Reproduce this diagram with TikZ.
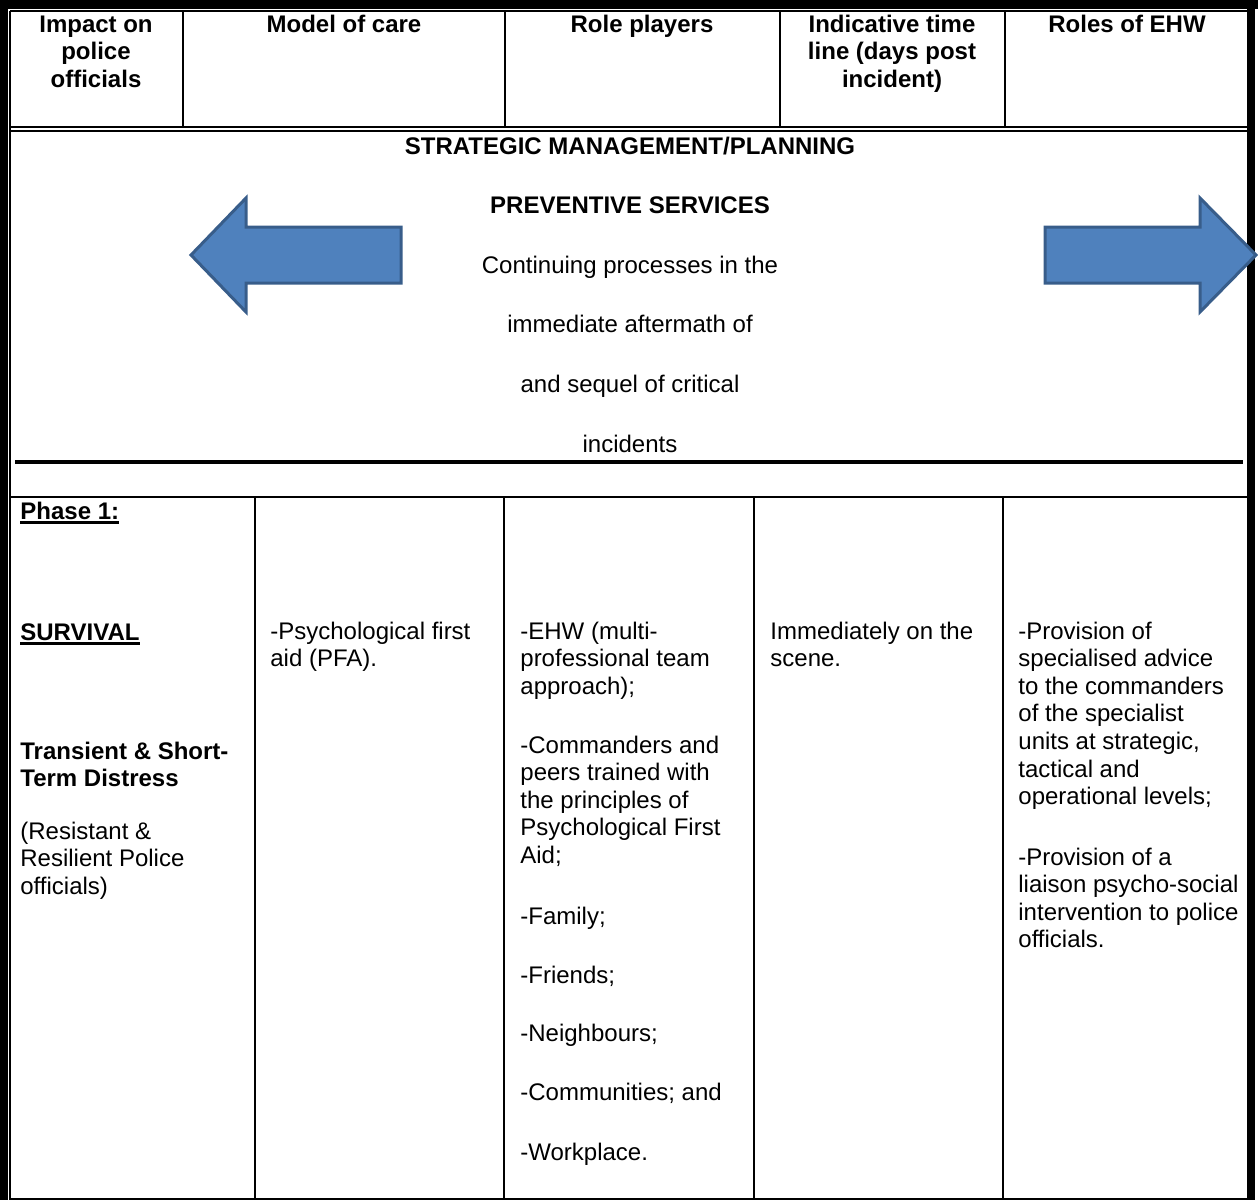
\documentclass[tikz,border=0pt]{standalone}
\usepackage{fontspec}
\setmainfont{Liberation Sans}
\usetikzlibrary{positioning}
\definecolor{arrowfill}{HTML}{4F81BD}
\definecolor{arrowline}{HTML}{385D8A}
\newcommand{\cellfont}{\fontsize{12}{13.8}\selectfont}
\newsavebox{\ulbox}
\newcommand{\thickul}[1]{\sbox{\ulbox}{#1}\rlap{\rule[-2.3pt]{\wd\ulbox}{1.1pt}}\usebox{\ulbox}}
\tikzset{
  head/.style={anchor=base, align=center, inner sep=0pt, font=\cellfont\bfseries},
  cell/.style={anchor=base west, align=left, inner sep=0pt, font=\cellfont},
  boldcell/.style={cell, font=\cellfont\bfseries},
  rule/.style={line width=1pt},
  blockarrow/.style={fill=arrowfill, draw=arrowline, line width=1.5pt, line join=miter}
}
\begin{document}
\begin{tikzpicture}[x=0.5pt, y=-0.5pt]
\useasboundingbox (0,0) rectangle (1258,1200);
% outer frame
\fill (0,0) rectangle (1258,9);
\fill (0,0) rectangle (8,1200);
\fill (1247,0) rectangle (1255,1200);
\draw[rule] (10,11) -- (1247,11);
\draw[rule] (10,11) -- (10,1199) -- (1247,1199);
% rows
\draw[rule] (10,127) -- (1247,127);
\draw[rule] (10,131) -- (1247,131);
\draw[line width=2pt] (15,462) -- (1243,462);
\draw[rule] (10,497) -- (1247,497);
% header columns
\draw[rule] (183,11) -- (183,127);
\draw[rule] (505,11) -- (505,127);
\draw[rule] (780,11) -- (780,127);
\draw[rule] (1005,11) -- (1005,127);
% phase columns
\draw[rule] (255,497) -- (255,1199);
\draw[rule] (504,497) -- (504,1199);
\draw[rule] (754,497) -- (754,1199);
\draw[rule] (1003,497) -- (1003,1199);

% header (base = last line)
\node[head] (impact) at (96,87.2) {Impact on\\police\\officials};
\node[head] (model) at (344,32) {Model of care};
\node[head] (players) at (642,32) {Role players};
\node[head] (timeline) at (892,87.2) {Indicative time\\line (days post\\incident)};
\node[head] (roles) at (1127,32) {Roles of EHW};

% strategic band
\node[anchor=base, align=center, inner sep=0pt, font=\fontsize{12}{29.8}\selectfont] (prevent) at (630,452)
  {\textbf{STRATEGIC MANAGEMENT/PLANNING}\\\textbf{PREVENTIVE SERVICES}\\Continuing processes in the\\immediate aftermath of\\and sequel of critical\\incidents};
\draw[blockarrow] (191,255) -- (246,198) -- (246,227) -- (401,227) -- (401,283) -- (246,283) -- (246,312) -- cycle;
\draw[blockarrow] (1045,227) -- (1200,227) -- (1200,198) -- (1256,255) -- (1200,312) -- (1200,283) -- (1045,283) -- cycle;

% phase 1
\node[boldcell] (phase) at (20,519) {\thickul{Phase 1:}};
\node[boldcell] (survival) at (20,640) {\thickul{SURVIVAL}};
\node[boldcell] (distress) at (20,786.6) {Transient \& Short-\\Term Distress};
\node[cell] (resilient) at (20,894.2) {(Resistant \&\\Resilient Police\\officials)};
\node[cell] (pfa) at (270,666.6) {-Psychological first\\aid (PFA).};
\node[cell] (ehw) at (520,694.2) {-EHW (multi-\\professional team\\approach);};
\node[cell] (commanders) at (520,863.4) {-Commanders and\\peers trained with\\the principles of\\Psychological First\\Aid;};
\node[cell] (family) at (520,924) {-Family;};
\node[cell] (friends) at (520,983) {-Friends;};
\node[cell] (neighbours) at (520,1041) {-Neighbours;};
\node[cell] (communities) at (520,1100) {-Communities; and};
\node[cell] (workplace) at (520,1160) {-Workplace.};
\node[cell] (scene) at (770,666.6) {Immediately on the\\scene.};
\node[cell] (advice) at (1018,804.6) {-Provision of\\specialised advice\\to the commanders\\of the specialist\\units at strategic,\\tactical and\\operational levels;};
\node[cell] (liaison) at (1018,947.8) {-Provision of a\\liaison psycho-social\\intervention to police\\officials.};
\end{tikzpicture}
\end{document}
